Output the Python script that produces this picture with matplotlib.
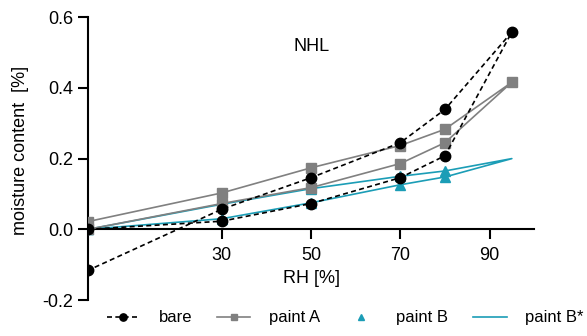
import matplotlib
matplotlib.use("Agg")
import matplotlib.pyplot as plt

plt.rcParams['font.family'] = ['Liberation Sans', 'DejaVu Sans']

# RH steps: sorption up to 95 then desorption back down
rh = [0, 30, 50, 70, 80, 95, 80, 70, 50, 30, 0]
bare = [0.0, 0.023, 0.073, 0.146, 0.208, 0.558, 0.339, 0.245, 0.146, 0.057, -0.116]
paint_a = [0.0, 0.073, 0.118, 0.186, 0.245, 0.416, 0.283, 0.237, 0.174, 0.103, 0.022]
rh_b = [0, 30, 50, 70, 80, 80, 70, 50, 30, 0]
paint_b = [0.0, 0.030, 0.075, 0.126, 0.148, 0.165, 0.150, 0.115, 0.071, 0.0]
paint_bs = [0.0, 0.030, 0.075, 0.126, 0.148, 0.200, 0.165, 0.150, 0.115, 0.071, 0.0]

teal = '#1b9db6'
grey = '#808080'

fig = plt.figure(figsize=(5.87, 3.36), dpi=100)
ax = fig.add_axes([0.150, 0.107, 0.760, 0.842])

ax.plot(rh, bare, color='black', ls='--', lw=1.2, marker='o', ms=7.5,
        label='bare', zorder=4, dashes=(3, 2))
ax.plot(rh, paint_a, color=grey, lw=1.2, marker='s', ms=7,
        label='paint A', zorder=3)
ax.plot(rh_b, paint_b, color=teal, ls='none', marker='^', ms=7,
        label='paint B', zorder=2)
ax.plot(rh, paint_bs, color=teal, lw=1.2, label='paint B*', zorder=2)

ax.set_xlim(0, 100)
ax.set_ylim(-0.2, 0.6)
ax.set_xticks([30, 50, 70, 90])
ax.set_yticks([-0.2, 0.0, 0.2, 0.4, 0.6])
ax.set_yticklabels(['-0.2', '0.0', '0.2', '0.4', '0.6'])

ax.spines['top'].set_visible(False)
ax.spines['right'].set_visible(False)
ax.spines['bottom'].set_position(('data', 0))
for s in ('left', 'bottom'):
    ax.spines[s].set_linewidth(1.5)
ax.tick_params(axis='both', width=1.5, length=7, labelsize=13, color='black')
ax.tick_params(axis='x', pad=6)

ax.set_xlabel('RH [%]', fontsize=13, labelpad=4)
ax.set_ylabel('moisture content  [%]', fontsize=13)
ax.yaxis.set_label_coords(-0.132, 0.53)
ax.text(46, 0.505, 'NHL', fontsize=13)

fig.legend(loc='center', bbox_to_anchor=(0.588, 0.054), ncol=4, frameon=False,
           fontsize=12, handlelength=2.0, columnspacing=1.5, handletextpad=1.1,
           markerscale=0.7)

fig.savefig('out.png', dpi=100)
